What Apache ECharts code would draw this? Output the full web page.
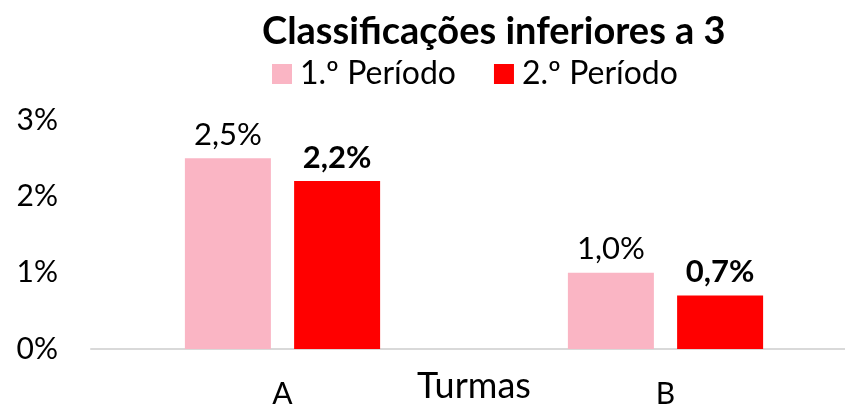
<!DOCTYPE html>
<html>
<head>
<meta charset="utf-8">
<script src="https://cdn.jsdelivr.net/npm/echarts@6/dist/echarts.min.js"></script>
<style>
  html, body { margin: 0; padding: 0; background: #fff; }
  #myChart { width: 845px; height: 404px; }
</style>
</head>
<body>
<div id="myChart"></div>
<script>
// dados do gráfico
var turmas = ['A', 'B'];
var periodo1 = [2.5, 1.0];
var periodo2 = [2.2, 0.7];
var seriesNames = ['1.º Período', '2.º Período'];
var yTicks = [0, 1, 2, 3];

var FONT = 'Lato';

function pct(v) {
    return v.toFixed(1).replace('.', ',') + '%';
}

var myChart = echarts.init(document.getElementById('myChart'));

var option = {
    animation: false,
    textStyle: { fontFamily: FONT },
    title: {
        text: 'Classificações inferiores a 3',
        left: 257,
        top: 8,
        textStyle: { fontFamily: FONT, fontSize: 38, fontWeight: 'bold', color: '#000' }
    },
    legend: {
        data: seriesNames,
        left: 267,
        top: 53,
        itemWidth: 20,
        itemHeight: 20,
        itemGap: 38,
        icon: 'rect',
        textStyle: { fontFamily: FONT, fontSize: 32, color: '#000', padding: [0, 0, 0, 3] }
    },
    grid: {
        left: 91,
        top: 120,
        width: 766,
        height: 229,
        outerBoundsMode: 'none',
        containLabel: false
    },
    xAxis: {
        type: 'category',
        data: turmas,
        name: 'Turmas',
        nameLocation: 'middle',
        nameGap: 19,
        nameMoveOverlap: false,
        nameTextStyle: { fontFamily: FONT, fontSize: 36, color: '#000', verticalAlign: 'top' },
        axisLine: { lineStyle: { color: '#d9d9d9', width: 2 } },
        axisTick: { show: false },
        axisLabel: { fontFamily: FONT, fontSize: 30, color: '#000', margin: 30 }
    },
    yAxis: {
        type: 'value',
        min: yTicks[0],
        max: yTicks[yTicks.length - 1],
        interval: 1,
        axisLine: { show: false },
        axisTick: { show: false },
        splitLine: { show: false },
        axisLabel: {
            fontFamily: FONT, fontSize: 30, color: '#000', margin: 33,
            formatter: function (v) { return v + '%'; }
        }
    },
    series: [
        {
            name: seriesNames[0],
            type: 'bar',
            data: periodo1,
            barWidth: 86,
            barGap: '27%',
            itemStyle: { color: '#fab5c4' },
            label: {
                show: true,
                position: 'top',
                distance: 8,
                fontFamily: FONT, fontSize: 31, color: '#000',
                formatter: function (p) { return pct(p.value); }
            }
        },
        {
            name: seriesNames[1],
            type: 'bar',
            data: periodo2,
            barWidth: 86,
            itemStyle: { color: '#ff0000' },
            label: {
                show: true,
                position: 'top',
                distance: 8,
                fontFamily: FONT, fontSize: 31, fontWeight: 'bold', color: '#000',
                formatter: function (p) { return pct(p.value); }
            }
        }
    ]
};

myChart.setOption(option);
</script>
</body>
</html>
